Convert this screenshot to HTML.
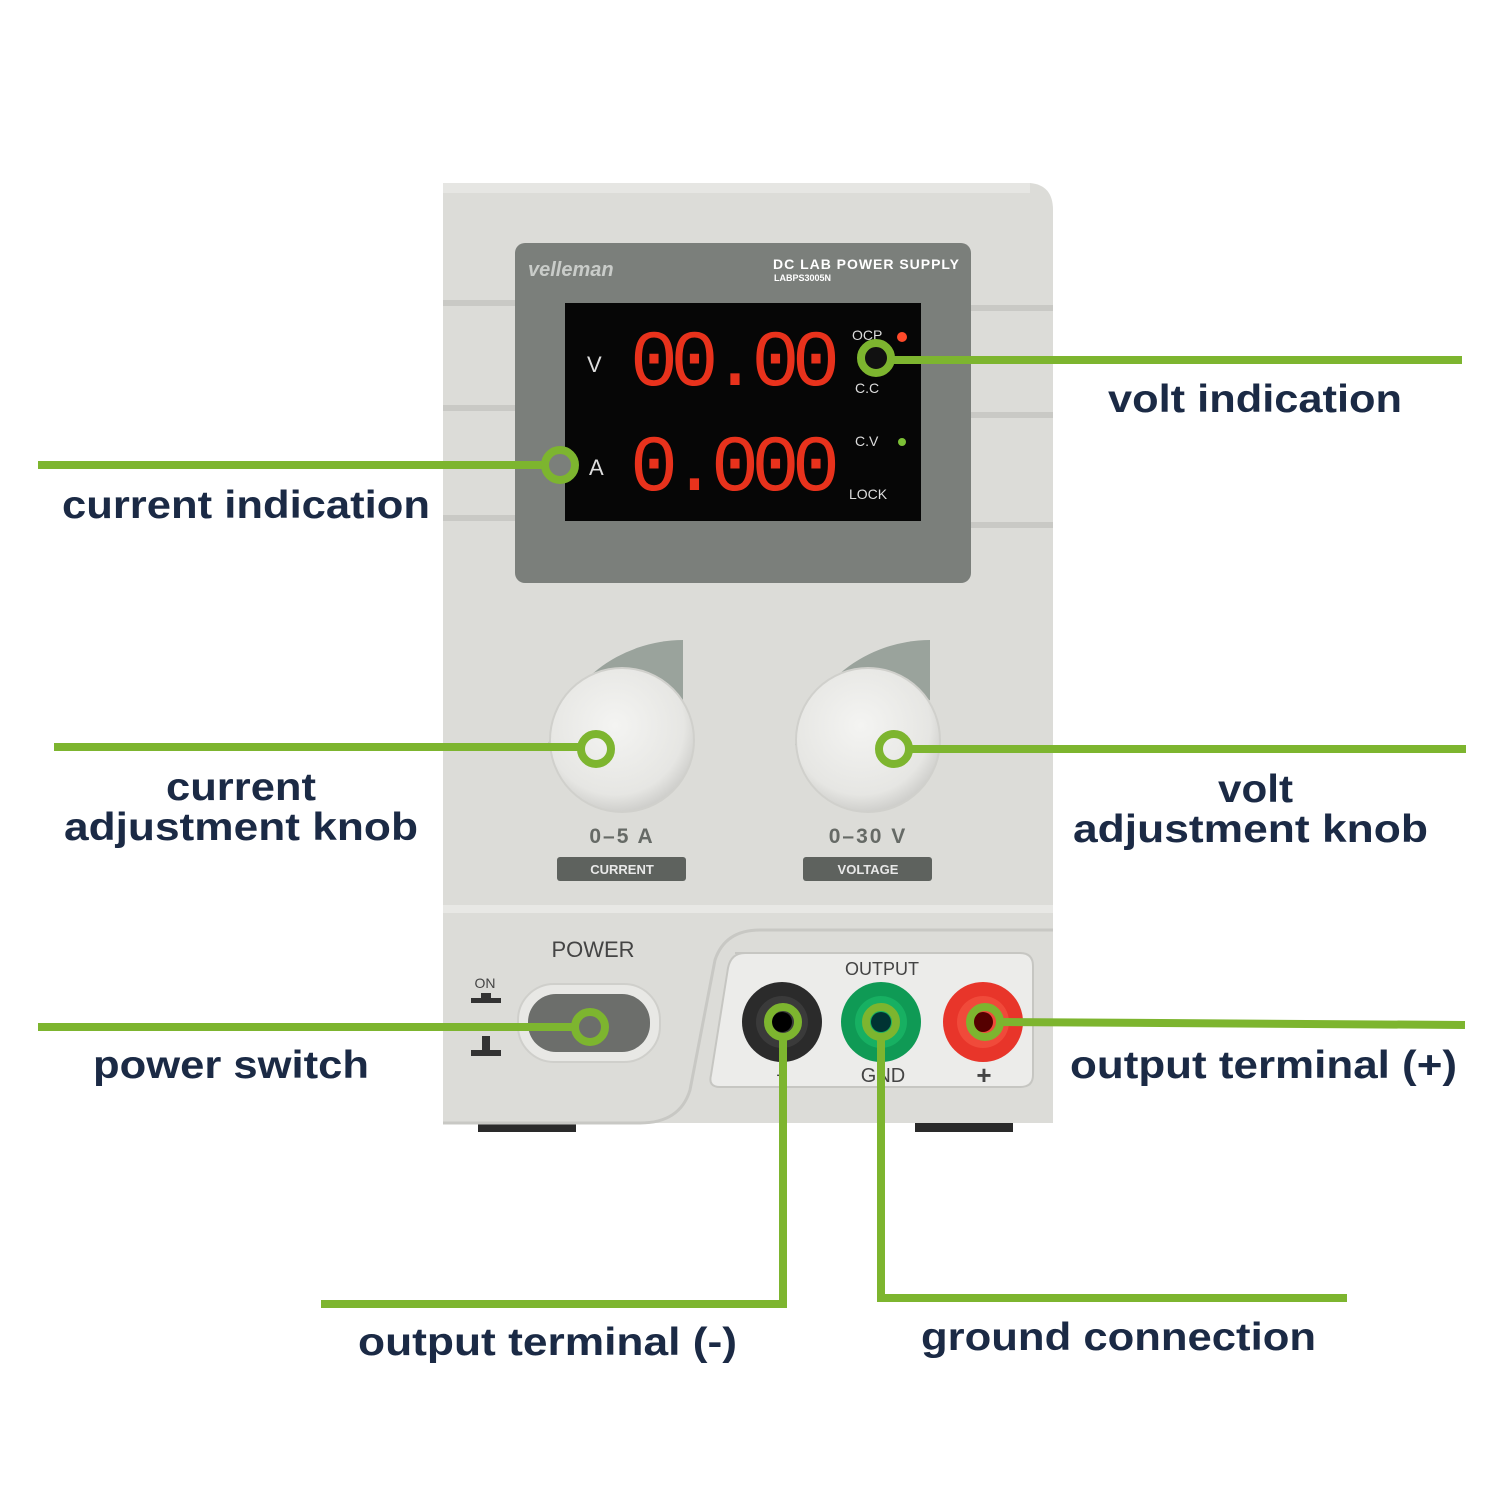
<!DOCTYPE html>
<html><head><meta charset="utf-8"><style>
html,body{margin:0;padding:0;background:#fff}
svg{display:block}
.lbl{font-family:"Liberation Sans",sans-serif;font-weight:bold;fill:#1b2a45;font-size:39px}
</style></head><body>
<svg width="1500" height="1500" viewBox="0 0 1500 1500" xmlns="http://www.w3.org/2000/svg">
<defs>
<radialGradient id="kb" cx="0.45" cy="0.4" r="0.6"><stop offset="0" stop-color="#f4f4f2"/><stop offset="0.8" stop-color="#e6e6e3"/><stop offset="1" stop-color="#cfcfcc"/></radialGradient>
</defs>
<rect width="1500" height="1500" fill="#fff"/>
<rect x="478" y="1118" width="98" height="14" fill="#2a2a2a"/>
<rect x="915" y="1118" width="98" height="14" fill="#2a2a2a"/>
<path d="M443 183 H1030 Q1053 185 1053 210 V1123 H443 Z" fill="#dcdcd8"/>
<rect x="443" y="183" width="587" height="10" fill="#e6e6e3"/>
<g fill="#c9c9c5">
<rect x="443" y="300" width="72" height="6"/><rect x="971" y="305" width="82" height="6"/>
<rect x="443" y="405" width="72" height="6"/><rect x="971" y="412" width="82" height="6"/>
<rect x="443" y="515" width="72" height="6"/><rect x="971" y="522" width="82" height="6"/>
</g>
<rect x="443" y="905" width="610" height="8" fill="#e8e8e5"/>
<path d="M443 1123 H640 Q680 1123 690 1090 L715 960 Q725 930 760 930 H1053" fill="none" stroke="#c8c8c4" stroke-width="3"/>
<rect x="515" y="243" width="456" height="340" rx="10" fill="#7b7f7b"/>
<rect x="565" y="303" width="356" height="218" fill="#060606"/>
<text x="528" y="276" font-family="Liberation Sans,sans-serif" font-size="20" fill="#c9ccc9" font-weight="bold" font-style="italic">velleman</text>
<text x="773" y="269" font-family="Liberation Sans,sans-serif" font-size="14" fill="#fff" font-weight="bold" textLength="186">DC LAB POWER SUPPLY</text>
<text x="774" y="281" font-family="Liberation Sans,sans-serif" font-size="9" fill="#fff" font-weight="bold">LABPS3005N</text>
<text x="587" y="372" font-family="Liberation Sans,sans-serif" font-size="22" fill="#ddd">V</text>
<text x="589" y="475" font-family="Liberation Sans,sans-serif" font-size="22" fill="#ddd">A</text>
<g font-family="Liberation Mono,monospace" font-size="80" fill="#e8321c">
<text x="630" y="385" textLength="210">00.00</text>
<text x="630" y="490" textLength="210">0.000</text>
</g>
<g font-family="Liberation Sans,sans-serif" font-size="14" fill="#ddd">
<text x="852" y="340">OCP</text><text x="855" y="393">C.C</text><text x="855" y="446">C.V</text><text x="849" y="499">LOCK</text>
</g>
<circle cx="902" cy="337" r="5" fill="#ff4a2a"/>
<circle cx="902" cy="442" r="4" fill="#7cc036"/>
<path d="M548 745 A140 140 0 0 1 683 640 L683 700 Z" fill="#9aa39c"/>
<path d="M795 745 A140 140 0 0 1 930 640 L930 700 Z" fill="#9aa39c"/>
<circle cx="622" cy="740" r="72" fill="url(#kb)" stroke="#d0d0cc" stroke-width="2"/>
<circle cx="868" cy="740" r="72" fill="url(#kb)" stroke="#d0d0cc" stroke-width="2"/>
<g font-family="Liberation Sans,sans-serif" font-weight="bold" fill="#666a66" font-size="21" text-anchor="middle">
<text x="622" y="843" letter-spacing="2">0–5 A</text><text x="868" y="843" letter-spacing="2">0–30 V</text>
</g>
<rect x="557" y="857" width="129" height="24" rx="3" fill="#5e625e"/>
<rect x="803" y="857" width="129" height="24" rx="3" fill="#5e625e"/>
<g font-family="Liberation Sans,sans-serif" font-weight="bold" fill="#e8e8e8" font-size="13" text-anchor="middle">
<text x="622" y="874">CURRENT</text><text x="868" y="874">VOLTAGE</text>
</g>
<text x="593" y="957" text-anchor="middle" font-family="Liberation Sans,sans-serif" font-size="22" fill="#444">POWER</text>
<text x="485" y="988" text-anchor="middle" font-family="Liberation Sans,sans-serif" font-size="14" fill="#444">ON</text>
<rect x="471" y="998" width="30" height="5" fill="#333"/><rect x="481" y="993" width="10" height="6" fill="#333"/>
<rect x="471" y="1050" width="30" height="6" fill="#333"/><rect x="482" y="1036" width="8" height="16" fill="#333"/>
<rect x="518" y="984" width="142" height="78" rx="36" fill="#e8e8e5" stroke="#cfcfcb" stroke-width="2"/>
<rect x="528" y="994" width="122" height="58" rx="28" fill="#6c6e6b"/>
<path d="M735 953 H1020 Q1033 953 1033 966 V1075 Q1033 1087 1020 1087 H720 Q708 1087 711 1075 L728 968 Q731 953 745 953 Z" fill="#ececea" stroke="#c6c6c2" stroke-width="2"/>
<text x="882" y="975" text-anchor="middle" font-family="Liberation Sans,sans-serif" font-size="18" fill="#444">OUTPUT</text>
<circle cx="782" cy="1022" r="40" fill="#2b2b2b"/><circle cx="782" cy="1022" r="26" fill="#3a3a3a"/><circle cx="782" cy="1022" r="10" fill="#000"/>
<circle cx="881" cy="1022" r="40" fill="#0f9a55"/><circle cx="881" cy="1022" r="26" fill="#17b062"/><circle cx="881" cy="1022" r="10" fill="#033"/>
<circle cx="983" cy="1022" r="40" fill="#e8352a"/><circle cx="983" cy="1022" r="26" fill="#f04a3a"/><circle cx="983" cy="1022" r="10" fill="#500"/>
<g font-family="Liberation Sans,sans-serif" font-size="20" fill="#444" text-anchor="middle">
<text x="782" y="1082">−</text><text x="883" y="1082">GND</text><text x="984" y="1084" font-size="26" font-weight="bold">+</text>
</g>
<g stroke="#7db52f" stroke-width="8" fill="none">
<line x1="892" y1="360" x2="1462" y2="360"/>
<line x1="38" y1="465" x2="544" y2="465"/>
<line x1="54" y1="747" x2="580" y2="747"/>
<line x1="910" y1="749" x2="1466" y2="749"/>
<line x1="38" y1="1027" x2="574" y2="1027"/>
<line x1="1001" y1="1022" x2="1465" y2="1025"/>
<polyline points="783,1038 783,1304 321,1304"/>
<polyline points="881,1038 881,1298 1347,1298"/>
<circle cx="876" cy="358" r="15" fill="#111"/>
<circle cx="560" cy="465" r="15" fill="#7b7f7b"/>
<circle cx="596" cy="749" r="15"/>
<circle cx="894" cy="749" r="15"/>
<circle cx="590" cy="1027" r="15"/>
<circle cx="783" cy="1022" r="15"/>
<circle cx="881" cy="1022" r="15"/>
<circle cx="985" cy="1022" r="15"/>
</g>
<text class="lbl" x="1108" y="412" textLength="294" lengthAdjust="spacingAndGlyphs">volt indication</text>
<text class="lbl" x="62" y="518" textLength="368" lengthAdjust="spacingAndGlyphs">current indication</text>
<text class="lbl" x="166" y="800" textLength="150" lengthAdjust="spacingAndGlyphs">current</text>
<text class="lbl" x="64" y="840" textLength="354" lengthAdjust="spacingAndGlyphs">adjustment knob</text>
<text class="lbl" x="1218" y="802" textLength="75" lengthAdjust="spacingAndGlyphs">volt</text>
<text class="lbl" x="1073" y="842" textLength="355" lengthAdjust="spacingAndGlyphs">adjustment knob</text>
<text class="lbl" x="93" y="1078" textLength="276" lengthAdjust="spacingAndGlyphs">power switch</text>
<text class="lbl" x="1070" y="1078" textLength="387" lengthAdjust="spacingAndGlyphs">output terminal (+)</text>
<text class="lbl" x="358" y="1355" textLength="379" lengthAdjust="spacingAndGlyphs">output terminal (-)</text>
<text class="lbl" x="921" y="1350" textLength="395" lengthAdjust="spacingAndGlyphs">ground connection</text>
</svg>
</body></html>
